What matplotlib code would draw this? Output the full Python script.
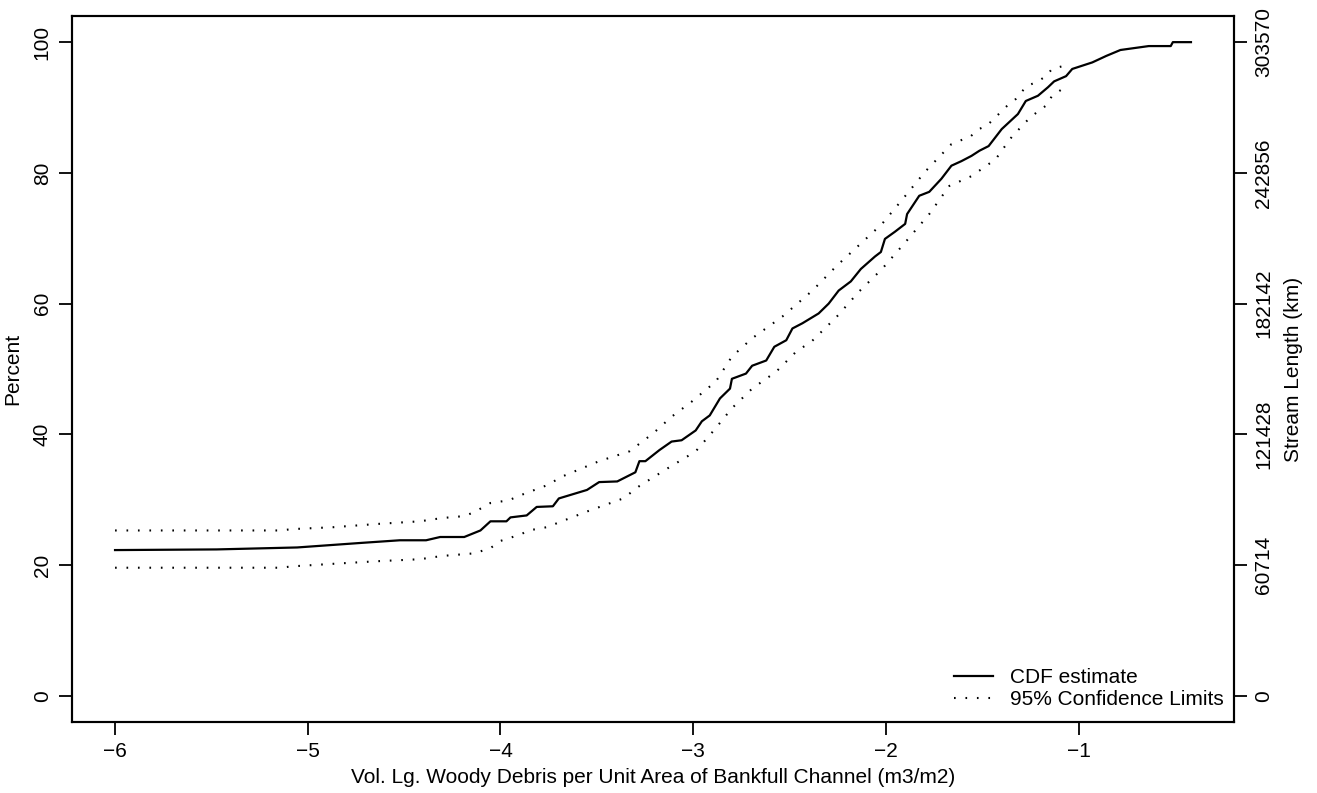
import matplotlib
matplotlib.use("Agg")
import matplotlib.pyplot as plt

# CDF estimate
cdf_x = [-6.0, -5.473, -5.055, -4.721, -4.522, -4.386, -4.313, -4.188, -4.104, -4.052, -3.969, -3.948,
         -3.864, -3.812, -3.728, -3.697, -3.551, -3.488, -3.394, -3.300, -3.279, -3.248, -3.175, -3.112,
         -3.060, -2.987, -2.955, -2.914, -2.861, -2.809, -2.799, -2.726, -2.694, -2.621, -2.579, -2.517,
         -2.485, -2.433, -2.349, -2.297, -2.245, -2.182, -2.130, -2.057, -2.026, -2.005, -1.953, -1.900,
         -1.890, -1.827, -1.775, -1.712, -1.660, -1.608, -1.556, -1.514, -1.467, -1.399, -1.315, -1.274,
         -1.211, -1.159, -1.127, -1.065, -1.033, -0.929, -0.856, -0.783, -0.636, -0.522, -0.511, -0.417]
cdf_y = [22.3, 22.4, 22.7, 23.4, 23.8, 23.8, 24.3, 24.3, 25.3, 26.7, 26.7, 27.3,
         27.6, 28.9, 29.0, 30.2, 31.5, 32.7, 32.8, 34.2, 35.9, 35.9, 37.6, 38.9,
         39.1, 40.6, 42.0, 42.9, 45.5, 47.0, 48.5, 49.3, 50.5, 51.3, 53.4, 54.4,
         56.2, 57.0, 58.5, 60.0, 62.0, 63.4, 65.3, 67.2, 67.9, 69.9, 71.0, 72.2,
         73.7, 76.5, 77.1, 79.1, 81.1, 81.8, 82.6, 83.4, 84.1, 86.7, 89.0, 91.0,
         91.8, 93.1, 94.0, 94.8, 95.9, 96.9, 97.9, 98.8, 99.4, 99.4, 100.0, 100.0]

# 95% confidence limits
upper_x = [-6.0, -5.138, -5.086, -4.867, -4.637, -4.418, -4.303, -4.188, -4.136, -4.052, -3.958, -3.895,
           -3.760, -3.676, -3.488, -3.331, -3.206, -3.112, -3.008, -2.882, -2.799, -2.694, -2.538, -2.381,
           -2.255, -2.141, -2.020, -1.921, -1.796, -1.660, -1.560, -1.518, -1.477, -1.404, -1.373,
           -1.326, -1.301, -1.269, -1.217, -1.169, -1.138, -1.086]
upper_y = [25.3, 25.3, 25.5, 25.8, 26.3, 26.7, 27.2, 27.5, 28.1, 29.5, 29.9, 30.7,
           32.2, 33.6, 35.9, 37.4, 40.2, 42.7, 45.0, 48.1, 51.9, 54.7, 58.0, 62.0,
           65.8, 68.9, 72.2, 75.7, 80.2, 84.4, 85.6, 86.7, 87.2, 89.3, 90.2,
           91.3, 92.2, 93.3, 93.9, 94.8, 95.9, 96.3]
lower_x = [-6.0, -5.138, -5.086, -4.867, -4.637, -4.418, -4.303, -4.136, -4.052, -4.000, -3.895, -3.854,
           -3.760, -3.551, -3.363, -3.279, -3.133, -2.987, -2.893, -2.799, -2.694, -2.569, -2.464, -2.386,
           -2.255, -2.141, -2.020, -1.896, -1.775, -1.671, -1.556, -1.430, -1.404, -1.347, -1.274,
           -1.242, -1.206, -1.164, -1.138, -1.091]
lower_y = [19.6, 19.6, 19.8, 20.2, 20.6, 20.9, 21.4, 21.8, 22.6, 23.7, 24.7, 25.3,
           25.8, 28.2, 30.2, 32.1, 34.8, 37.4, 40.6, 44.0, 47.0, 49.6, 52.7, 54.2,
           58.0, 61.8, 65.3, 69.5, 73.7, 78.0, 79.5, 82.1, 83.2, 85.5, 87.8,
           88.7, 89.5, 90.4, 91.8, 92.7]

pct_ticks = [0, 20, 40, 60, 80, 100]
length_labels = ["0", "60714", "121428", "182142", "242856", "303570"]
x_ticks = [-6, -5, -4, -3, -2, -1]

plt.rcParams['font.family'] = ['Liberation Sans', 'DejaVu Sans']
plt.rcParams['font.size'] = 15

fig = plt.figure(figsize=(13.17, 7.93), dpi=100)
ax = fig.add_axes([72 / 1317, 1 - 722 / 793, (1234 - 72) / 1317, (722 - 16) / 793])

dots = (0, (0.8, 4.7))
ax.plot(cdf_x, cdf_y, color='black', lw=1.6, label='CDF estimate')
ax.plot(upper_x, upper_y, color='black', lw=1.5, linestyle=dots, label='95% Confidence Limits')
ax.plot(lower_x, lower_y, color='black', lw=1.5, linestyle=dots)

# R-style 4% padding
xmin, xmax = min(cdf_x), max(cdf_x)
pad = 0.04 * (xmax - xmin)
ax.set_xlim(xmin - pad, xmax + pad)
ax.set_ylim(-4, 104)

ax.set_xticks(x_ticks)
ax.set_xticklabels([f"\u2212{abs(t)}" for t in x_ticks])
ax.set_yticks(pct_ticks)
ax.set_yticklabels([str(t) for t in pct_ticks], rotation=90, va='center')
ax.tick_params(direction='out', length=9.5, width=1.3, pad=5)

ax.set_xlabel('Vol. Lg. Woody Debris per Unit Area of Bankfull Channel (m3/m2)', labelpad=5)
ax.set_ylabel('Percent', labelpad=8)

for s in ax.spines.values():
    s.set_linewidth(1.5)

ax2 = ax.twinx()
ax2.set_ylim(ax.get_ylim())
ax2.set_yticks(pct_ticks)
ax2.set_yticklabels(length_labels, rotation=90, va='center')
ax2.tick_params(direction='out', length=9.5, width=1.3, pad=5)
ax2.set_ylabel('Stream Length (km)', labelpad=8)
for s in ax2.spines.values():
    s.set_linewidth(1.5)

ax.legend(loc='lower right', frameon=False, bbox_to_anchor=(0.991, 0.018),
          borderaxespad=0, borderpad=0, handlelength=1.9, handletextpad=0.8,
          labelspacing=0.15)

fig.savefig('out.png', dpi=100)
